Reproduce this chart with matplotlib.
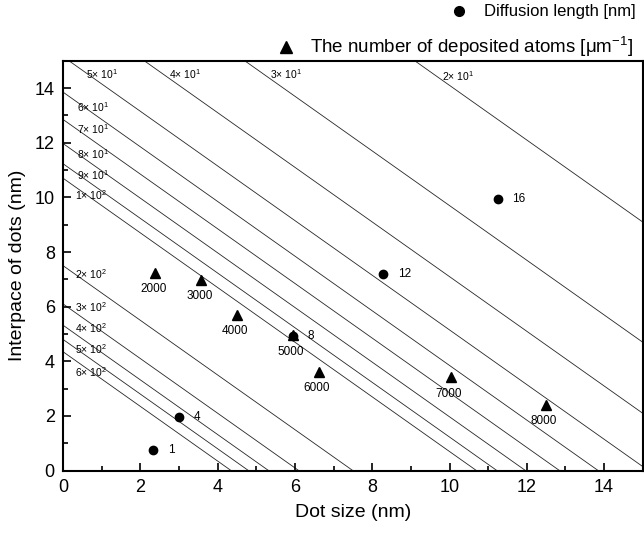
import numpy as np
import matplotlib
matplotlib.use('Agg')
import matplotlib.pyplot as plt
from matplotlib.lines import Line2D

plt.rcParams['font.family'] = ['Liberation Sans', 'DejaVu Sans']
plt.rcParams['mathtext.default'] = 'regular'

# constant-density lines: x + y = c, c
line_labels = ['6', '5', '4', '3', '2', '1', '9', '8', '7', '6', '5', '4', '3', '2']
line_exp = ['2', '2', '2', '2', '2', '2', '1', '1', '1', '1', '1', '1', '1', '1']
line_c = [4.35, 4.8, 5.32, 6.1, 7.5, 10.7, 11.23, 11.97, 12.85, 13.85, 15.15, 17.1, 19.7, 24.1]
# where the labels sit
lab_x = [0.3, 0.3, 0.3, 0.3, 0.3, 0.3, 0.35, 0.35, 0.35, 0.35, 0.6, 2.75, 5.35, 9.8]
lab_y = [3.6, 4.45, 5.2, 6.0, 7.2, 10.1, 10.8, 11.6, 12.5, 13.3, 14.5, 14.5, 14.5, 14.45]

# diffusion length points
diff_x = [2.33, 3.0, 5.95, 8.28, 11.25]
diff_y = [0.75, 1.97, 4.93, 7.19, 9.94]
diff_lab = ['1', '4', '8', '12', '16']

# deposited atoms points
atom_x = [2.39, 3.58, 4.49, 5.95, 6.62, 10.03, 12.5]
atom_y = [7.25, 6.98, 5.7, 4.95, 3.62, 3.41, 2.4]
atom_lab = ['2000', '3000', '4000', '5000', '6000', '7000', '8000']

fig = plt.figure(figsize=(6.44, 5.33), dpi=100)
ax = fig.add_axes([0.098, 0.117, 0.9, 0.769])

for c in line_c:
    xs = np.array([0, c])
    ax.plot(xs, c - xs, color='0.15', lw=0.6, zorder=1)

for i in range(len(line_c)):
    ax.text(lab_x[i], lab_y[i], line_labels[i] + '× 10$^{' + line_exp[i] + '}$',
            fontsize=7.5, va='center', ha='left', zorder=2)

ax.plot(diff_x, diff_y, 'o', color='black', ms=6, zorder=3)
for x, y, t in zip(diff_x, diff_y, diff_lab):
    ax.text(x + 0.38, y, t, fontsize=8.5, va='center', ha='left')

ax.plot(atom_x, atom_y, '^', color='black', ms=7, zorder=3)
for x, y, t in zip(atom_x, atom_y, atom_lab):
    ax.text(x - 0.05, y - 0.6, t, fontsize=8.5, va='center', ha='center')

ax.set_xlim(0, 15)
ax.set_ylim(0, 15)
ax.set_xticks(np.arange(0, 15, 2))
ax.set_yticks(np.arange(0, 15, 2))
ax.set_xticks(np.arange(0, 15, 1), minor=True)
ax.set_yticks(np.arange(0, 15, 1), minor=True)
ax.tick_params(which='both', direction='in', top=False, right=False, labelsize=13, width=1.2)
ax.tick_params(which='major', length=6)
ax.tick_params(which='minor', length=3.5)
ax.tick_params(axis='x', pad=6)
ax.tick_params(axis='y', pad=6)
for s in ax.spines.values():
    s.set_linewidth(1.5)
ax.set_xlabel('Dot size (nm)', fontsize=14, labelpad=6)
ax.set_ylabel('Interpace of dots (nm)', fontsize=14, labelpad=6)

h1 = Line2D([], [], marker='o', color='black', ls='none', ms=7)
h2 = Line2D([], [], marker='^', color='black', ls='none', ms=8)
fig.legend([h1], ['Diffusion length [nm]'], loc='upper right', bbox_to_anchor=(1.01, 1.02),
           frameon=False, fontsize=12, handletextpad=0.5)
fig.legend([h2], ['The number of deposited atoms [μm$^{-1}$]'], loc='upper right',
           bbox_to_anchor=(1.01, 0.966), frameon=False, fontsize=13.5, handletextpad=0.3)

plt.savefig('out.png', dpi=100)
